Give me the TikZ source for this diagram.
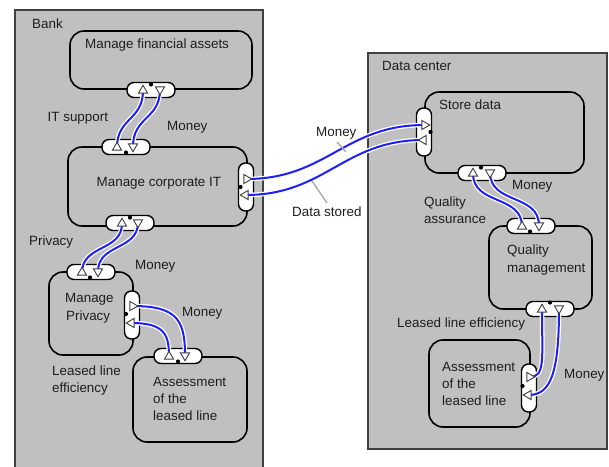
\documentclass[tikz,border=0pt]{standalone}
\usepackage{fontspec}
\setmainfont{Liberation Sans}
\usetikzlibrary{shapes.geometric}
\pgfdeclarelayer{bg}\pgfdeclarelayer{mid}
\pgfsetlayers{bg,mid,main}
\definecolor{contfill}{RGB}{192,192,192}
\definecolor{contline}{RGB}{64,64,64}
\definecolor{flow}{RGB}{30,30,250}
\definecolor{lead}{RGB}{165,165,165}
\definecolor{txt}{RGB}{30,30,30}
\tikzset{
  container/.style={fill=contfill, draw=contline, line width=2},
  proc/.style={draw=black, line width=1.6, rounded corners=14, inner sep=0},
  hport/.style={draw=black, fill=white, line width=1.4, rounded corners=7, minimum width=48, minimum height=15, inner sep=0},
  vport/.style={draw=black, fill=white, line width=1.4, rounded corners=7, minimum width=15, minimum height=48, inner sep=0},
  tri/.style={regular polygon, regular polygon sides=3, draw=contline, fill=white, line width=0.9, minimum size=10.5, inner sep=0},
  tup/.style={tri},
  tdn/.style={tri, shape border rotate=180},
  trt/.style={tri, shape border rotate=-90},
  tlt/.style={tri, shape border rotate=90},
  flowline/.style={draw=white, double=flow, double distance=2, line width=1.3},
  leader/.style={draw=lead, line width=1.3},
  pdot/.style={circle, fill=black, minimum size=4.2, inner sep=0},
  lbl/.style={anchor=base west, inner sep=0, text=txt, font=\fontsize{13.4}{16}\selectfont},
}
\begin{document}
\begin{tikzpicture}[x=1pt,y=-1pt]
\useasboundingbox (0,0) rectangle (609,466);
\begin{pgfonlayer}{bg}
  % containers
  \node[container, minimum width=248, minimum height=463, anchor=north west, inner sep=0] (bank) at (14,9) {};
  \node[container, minimum width=239, minimum height=396, anchor=north west, inner sep=0] (dc) at (367,52) {};
  % processes
  \node[proc, minimum width=182, minimum height=58] (fa) at (161,60) {};
  \node[proc, minimum width=179, minimum height=79] (corp) at (157.5,186.5) {};
  \node[proc, minimum width=84, minimum height=83] (priv) at (91,313.5) {};
  \node[proc, minimum width=114, minimum height=85] (assl) at (190,399.5) {};
  \node[proc, minimum width=159, minimum height=81] (store) at (504.5,132.5) {};
  \node[proc, minimum width=103, minimum height=83] (qm) at (540.5,267.5) {};
  \node[proc, minimum width=101, minimum height=87] (assr) at (479.5,383.5) {};
  % ports
  \node[hport] (faB) at (151,90) {};
  \node[hport] (corpT) at (126,147) {};
  \node[vport] (corpR) at (246,187) {};
  \node[hport] (corpB) at (130,223) {};
  \node[hport] (privT) at (91,272) {};
  \node[vport] (privR) at (132,315) {};
  \node[hport] (asslT) at (178,356) {};
  \node[vport] (storeL) at (424,132) {};
  \node[hport] (storeB) at (482,173) {};
  \node[hport] (qmT) at (531,226) {};
  \node[hport] (qmB) at (550,309) {};
  \node[vport] (assrR) at (529,388) {};
\end{pgfonlayer}

% container labels
\node[lbl] (lbank) at (32,28.5) {Bank};
\node[lbl] (ldc) at (382,70) {Data center};

% process texts
\node[lbl] (tfa) at (85,48.5) {Manage financial assets};
\node[lbl] (tcorp) at (96.5,186) {Manage corporate IT};
\node[lbl] (tpriv1) at (65,302.5) {Manage};
\node[lbl] (tpriv2) at (66,320) {Privacy};
\node[lbl] (tassl1) at (153,386) {Assessment};
\node[lbl] (tassl2) at (153,403.3) {of the};
\node[lbl] (tassl3) at (153,420.7) {leased line};
\node[lbl] (tstore) at (439,109.3) {Store data};
\node[lbl] (tqm1) at (507,254) {Quality};
\node[lbl] (tqm2) at (507,272.5) {management};
\node[lbl] (tassr1) at (442,371) {Assessment};
\node[lbl] (tassr2) at (442,388.3) {of the};
\node[lbl] (tassr3) at (442,405.7) {leased line};

% flow labels
\node[lbl] (litsup) at (47.5,121.5) {IT support};
\node[lbl] (lmon1) at (167,130) {Money};
\node[lbl] (lpriv) at (29,245) {Privacy};
\node[lbl] (lmon2) at (135,269.3) {Money};
\node[lbl] (lmon3) at (182,316) {Money};
\node[lbl] (lll1) at (52,375) {Leased line};
\node[lbl] (lll2) at (52,392.3) {efficiency};
\node[lbl] (lmon4) at (316,136.7) {Money};
\node[lbl] (lds) at (292,216.7) {Data stored};
\node[lbl] (lmon5) at (512,189.3) {Money};
\node[lbl] (lqa1) at (424,206.5) {Quality};
\node[lbl] (lqa2) at (424,223) {assurance};
\node[lbl] (llle) at (397,327.7) {Leased line efficiency};
\node[lbl] (lmon6) at (564,378.3) {Money};

% triangles
\node[tup] (u1) at (143,90.5) {};
\node[tdn] (d1) at (160,89.5) {};
\node[tup] (u2) at (117,147.5) {};
\node[tdn] (d2) at (133,146.5) {};
\node[trt] (r7) at (246.5,179) {};
\node[tlt] (l7) at (245.5,195) {};
\node[tup] (u3) at (122,223.5) {};
\node[tdn] (d3) at (138,222.5) {};
\node[tup] (u4) at (82,272.5) {};
\node[tdn] (d4) at (98,271.5) {};
\node[trt] (r5) at (132.5,306) {};
\node[tlt] (l5) at (131.5,323) {};
\node[tup] (u6) at (169,356.5) {};
\node[tdn] (d6) at (185,355.5) {};
\node[trt] (r8) at (424.5,125) {};
\node[tlt] (l8) at (423.5,140) {};
\node[tup] (u9) at (473,173.5) {};
\node[tdn] (d9) at (490,172.5) {};
\node[tup] (u10) at (522,226.5) {};
\node[tdn] (d10) at (539,225.5) {};
\node[tup] (u11) at (542,309.5) {};
\node[tdn] (d11) at (559,308.5) {};
\node[trt] (r12) at (529.5,377) {};
\node[tlt] (l12) at (528.5,395) {};

% dots
\node[pdot] (p1) at (151,84.5) {};
\node[pdot] (p2) at (126,152.5) {};
\node[pdot] (p3) at (240.5,187) {};
\node[pdot] (p4) at (130,217.5) {};
\node[pdot] (p5) at (90,277.5) {};
\node[pdot] (p6) at (126,314) {};
\node[pdot] (p7) at (178,361.5) {};
\node[pdot] (p8) at (430.5,132) {};
\node[pdot] (p9) at (481,167.5) {};
\node[pdot] (p10) at (530,231.5) {};
\node[pdot] (p11) at (550,302.5) {};
\node[pdot] (p12) at (522.5,386) {};

% connectors
\begin{pgfonlayer}{mid}
  \draw[flowline] (u1.center) .. controls +(0,30) and +(0,-30) .. (u2.center);
  \draw[flowline] (d1.center) .. controls +(0,30) and +(0,-30) .. (d2.center);
  \draw[flowline] (u3.center) .. controls +(0,28) and +(0,-28) .. (u4.center);
  \draw[flowline] (d3.center) .. controls +(0,28) and +(0,-28) .. (d4.center);
  \draw[flowline] (r5.center) .. controls +(45,0) and +(0,-35) .. (d6.center);
  \draw[flowline] (l5.center) .. controls +(33,0) and +(0,-22) .. (u6.center);
  \draw[flowline] (r7.center) .. controls +(80,0) and +(-80,0) .. (r8.center);
  \draw[flowline] (l7.center) .. controls +(80,0) and +(-80,0) .. (l8.center);
  \draw[flowline] (u9.center) .. controls +(0,32) and +(0,-32) .. (u10.center);
  \draw[flowline] (d9.center) .. controls +(0,32) and +(0,-32) .. (d10.center);
  \draw[flowline] (u11.center) .. controls +(0,50) and +(16,0) .. (r12.center);
  \draw[flowline] (d11.center) .. controls +(0,65) and +(22,0) .. (l12.center);
  % leader lines
  \coordinate (m4a) at (337,142);
  \coordinate (m4b) at (346,152);
  \coordinate (dsa) at (327,203);
  \coordinate (dsb) at (312,181);
  \draw[leader] (m4a) -- (m4b);
  \draw[leader] (dsa) -- (dsb);
\end{pgfonlayer}
\end{tikzpicture}
\end{document}
